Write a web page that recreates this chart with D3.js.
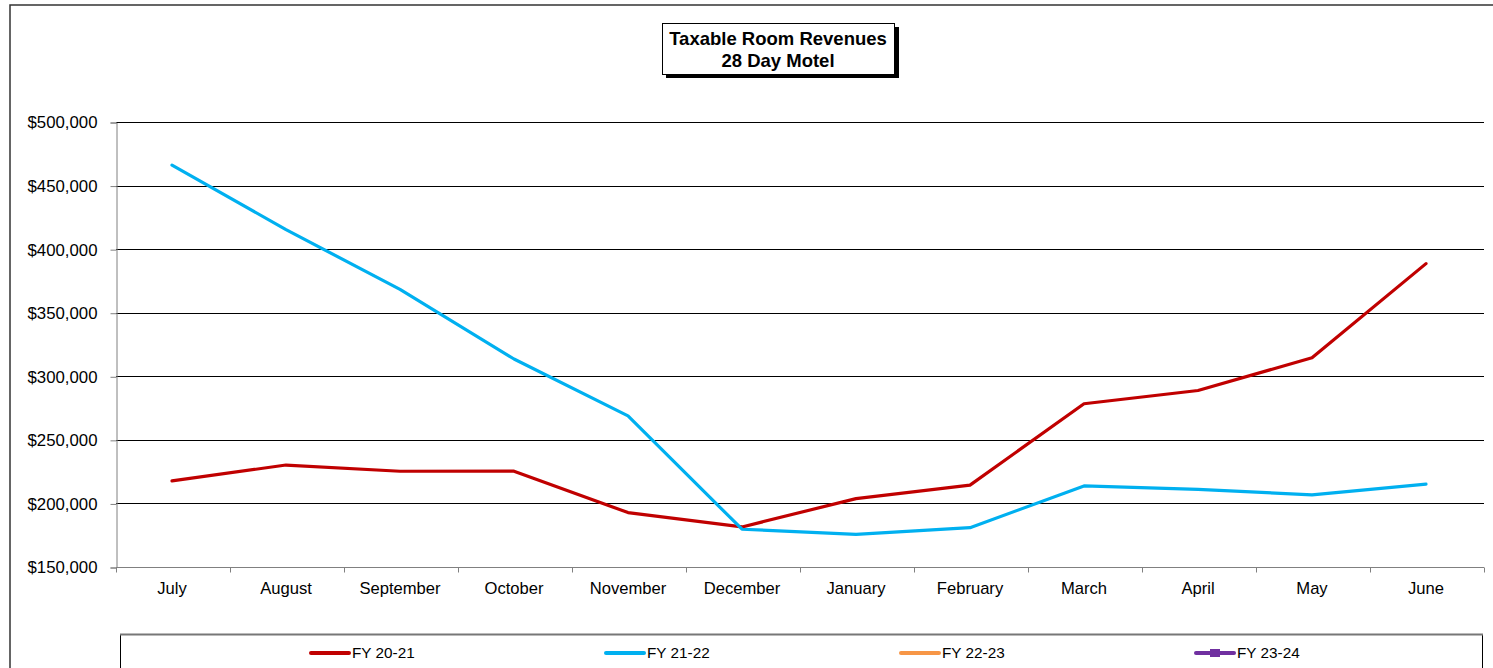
<!DOCTYPE html>
<html>
<head>
<meta charset="utf-8">
<script src="https://cdn.jsdelivr.net/npm/d3@7"></script>
<style>
body { margin: 0; background: #fff; }
text { font-family: Arial, "Liberation Sans", sans-serif; fill: #000; }
</style>
</head>
<body>
<div id="chart"></div>
<script>
// data
const months = ["July","August","September","October","November","December",
                "January","February","March","April","May","June"]
const fy2021 = [217700, 230200, 225300, 225400, 192800, 181500, 203800, 214400, 278400, 288800, 314600, 388600]
const fy2122 = [466100, 415400, 368300, 313600, 268900, 179700, 175700, 180900, 213800, 211000, 206800, 215200]
const fy2223 = []   // no values yet
const fy2324 = []   // no values yet
const seriesNames = ["FY 20-21", "FY 21-22", "FY 22-23", "FY 23-24"]
const yTicks = [150000, 200000, 250000, 300000, 350000, 400000, 450000, 500000]
const titleLines = ["Taxable Room Revenues", "28 Day Motel"]

const colors = ["#C00000", "#00B0F0", "#F79646", "#7030A0"]
const allSeries = [fy2021, fy2122, fy2223, fy2324]

const width = 1493, height = 668
const plotLeft = 116, plotRight = 1484, plotTop = 122, plotBottom = 567

const svg = d3.select("#chart").append("svg")
    .attr("width", width)
    .attr("height", height)

// outer chart border (runs past the window edge)
svg.append("rect")
    .attr("x", 10).attr("y", 5)
    .attr("width", 1600).attr("height", 800)
    .attr("fill", "none")
    .attr("stroke", "#333")
    .attr("stroke-width", 1.5)

const x = d3.scaleBand()
    .domain(months)
    .range([plotLeft, plotRight])
const y = d3.scaleLinear()
    .domain([150000, 500000])
    .range([plotBottom, plotTop])

// gridlines
svg.append("g")
    .selectAll("line")
    .data(yTicks)
    .enter()
    .append("line")
    .attr("x1", plotLeft).attr("x2", plotRight)
    .attr("y1", d => Math.round(y(d)) + 0.5)
    .attr("y2", d => Math.round(y(d)) + 0.5)
    .attr("stroke", "#000")
    .attr("stroke-width", 1)

// y axis
const yAxis = svg.append("g")
    .attr("transform", `translate(${plotLeft + 0.5},0.5)`)
    .call(d3.axisLeft(y).tickValues(yTicks).tickFormat(d3.format("$,")).tickSize(6).tickPadding(13))
yAxis.select(".domain").attr("stroke", "#808080")
yAxis.selectAll(".tick line").attr("stroke", "#808080")
yAxis.selectAll("text").style("font-size", "16.8px").attr("font-family", null)

// x axis, ticks at category boundaries
const xAxis = svg.append("g")
    .attr("transform", `translate(0,${plotBottom + 0.5})`)
xAxis.append("line")
    .attr("x1", plotLeft).attr("x2", plotRight)
    .attr("stroke", "#808080")
xAxis.selectAll(".bt")
    .data(months.concat([null]))
    .enter()
    .append("line")
    .attr("class", "bt")
    .attr("x1", (d, i) => Math.round(plotLeft + i * x.step()) + 0.5)
    .attr("x2", (d, i) => Math.round(plotLeft + i * x.step()) + 0.5)
    .attr("y1", 0).attr("y2", 5)
    .attr("stroke", "#808080")
xAxis.selectAll("text")
    .data(months)
    .enter()
    .append("text")
    .attr("x", d => x(d) + x.bandwidth() / 2 - 1)
    .attr("y", 26)
    .attr("text-anchor", "middle")
    .style("font-size", "16.6px")
    .text(d => d)

// series lines
const line = d3.line()
    .x((d, i) => x(months[i]) + x.bandwidth() / 2 - 1)
    .y(d => y(d))

svg.append("g")
    .selectAll("path")
    .data(allSeries)
    .enter()
    .append("path")
    .attr("d", d => d.length ? line(d) : null)
    .attr("fill", "none")
    .attr("stroke", (d, i) => colors[i])
    .attr("stroke-width", 3.2)
    .attr("stroke-linejoin", "round")
    .attr("stroke-linecap", "round")

// title box with shadow
const tb = svg.append("g")
tb.append("rect")
    .attr("x", 666).attr("y", 27)
    .attr("width", 233).attr("height", 51)
    .attr("fill", "#000")
tb.append("rect")
    .attr("x", 662.5).attr("y", 23.5)
    .attr("width", 232).attr("height", 51)
    .attr("fill", "#fff")
    .attr("stroke", "#000")
tb.selectAll("text")
    .data(titleLines)
    .enter()
    .append("text")
    .attr("x", 778)
    .attr("y", (d, i) => 45 + i * 21.5)
    .attr("text-anchor", "middle")
    .style("font-size", "18.5px")
    .style("font-weight", "bold")
    .text(d => d)

// legend
const lg = svg.append("g")
lg.append("rect")
    .attr("x", 120.5).attr("y", 634.5)
    .attr("width", 1362).attr("height", 100)
    .attr("fill", "#fff")
    .attr("stroke", "#000")
lg.append("line")
    .attr("x1", 120).attr("x2", 1483)
    .attr("y1", 634.5).attr("y2", 634.5)
    .attr("stroke", "#777").attr("stroke-width", 2)

const items = lg.selectAll(".item")
    .data(seriesNames)
    .enter()
    .append("g")
    .attr("class", "item")
    .attr("transform", (d, i) => `translate(${352 + i * 295},653)`)
items.append("line")
    .attr("x1", -41).attr("x2", -3)
    .attr("stroke", (d, i) => colors[i])
    .attr("stroke-width", 4)
    .attr("stroke-linecap", "round")
items.filter((d, i) => i === 3)
    .append("rect")
    .attr("x", -27).attr("y", -4)
    .attr("width", 10).attr("height", 8)
    .attr("fill", colors[3])
items.append("text")
    .attr("x", 0)
    .attr("dy", "0.35em")
    .style("font-size", "15.3px")
    .text(d => d)
</script>
</body>
</html>
